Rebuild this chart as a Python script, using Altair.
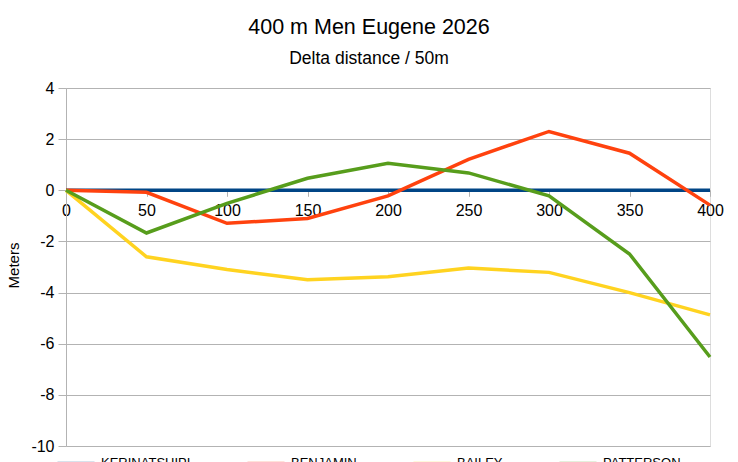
import altair as alt
import pandas as pd

distance = [0, 50, 100, 150, 200, 250, 300, 350, 400]
runners = ["KERINATSHIPI", "BENJAMIN", "BAILEY", "PATTERSON"]
colors = ["#004586", "#ff420e", "#ffd320", "#579d1c"]
kerinatshipi = [0, 0, 0, 0, 0, 0, 0, 0, 0]
benjamin = [0, -0.08, -1.29, -1.1, -0.22, 1.21, 2.3, 1.45, -0.58]
bailey = [0, -2.6, -3.1, -3.5, -3.38, -3.04, -3.21, -4.0, -4.87]
patterson = [0, -1.67, -0.51, 0.47, 1.06, 0.68, -0.22, -2.49, -6.52]

series = [kerinatshipi, benjamin, bailey, patterson]
rows = []
for name, vals in zip(runners, series):
    for d, v in zip(distance, vals):
        rows.append({"distance": d, "delta": v, "runner": name, "order": runners.index(name)})
df = pd.DataFrame(rows)

W, H = 644, 358
ymin, ymax = -10, 4
grey = "#b3b3b3"
font = "Liberation Sans"
minus_fix = "replace(datum.label, '\u2212', '-')"

chart = alt.Chart(df).mark_line(strokeWidth=3.5).encode(
    x=alt.X("distance:Q",
            scale=alt.Scale(domain=[0, 400], nice=False),
            axis=alt.Axis(values=distance, title=None, grid=False,
                          offset=-H * (0 - ymin) / (ymax - ymin),
                          labelFontSize=16, labelColor="black", labelFont=font,
                          tickColor=grey, tickSize=6, labelPadding=6,
                          domainColor=grey, labelFlush=False)),
    y=alt.Y("delta:Q",
            scale=alt.Scale(domain=[ymin, ymax], nice=False, zero=False),
            axis=alt.Axis(values=list(range(-10, 5, 2)), title="Meters",
                          labelExpr=minus_fix,
                          titleFont=font, titleFontSize=15, titleFontWeight="normal",
                          titleColor="black", titleX=-53, titleY=H / 2 - 2,
                          titleAngle=270, titleBaseline="middle", titleAlign="center",
                          labelFontSize=16, labelColor="black", labelFont=font,
                          tickColor=grey, tickSize=8, labelPadding=4,
                          domainColor=grey, gridColor=grey)),
    color=alt.Color("runner:N",
                    scale=alt.Scale(domain=runners, range=colors),
                    sort=runners,
                    legend=alt.Legend(title=None, orient="none", direction="horizontal",
                                      columns=4, legendX=-10, legendY=355,
                                      symbolType="stroke", symbolSize=1369,
                                      symbolStrokeWidth=3, symbolOpacity=0.3,
                                      labelFontSize=13,
                                      labelFont=font, labelColor="black",
                                      labelOffset=5, columnPadding=50, padding=0)),
    order=alt.Order("order:Q"),
).properties(
    width=W,
    height=H,
    autosize=alt.AutoSizeParams(type="none"),
    padding={"left": 58, "top": 80, "right": 20, "bottom": 16},
    title=alt.TitleParams("400 m Men Eugene 2026", subtitle="Delta distance / 50m",
                          font=font, fontSize=21.5, fontWeight="normal", color="black",
                          subtitleFont=font, subtitleFontSize=17.5, subtitleColor="black",
                          subtitlePadding=11, anchor="middle", dx=-19, offset=13),
).configure_view(stroke=grey, strokeWidth=1).configure(background="white")

chart.save("out.html", embed_options={"renderer": "svg", "actions": False})
